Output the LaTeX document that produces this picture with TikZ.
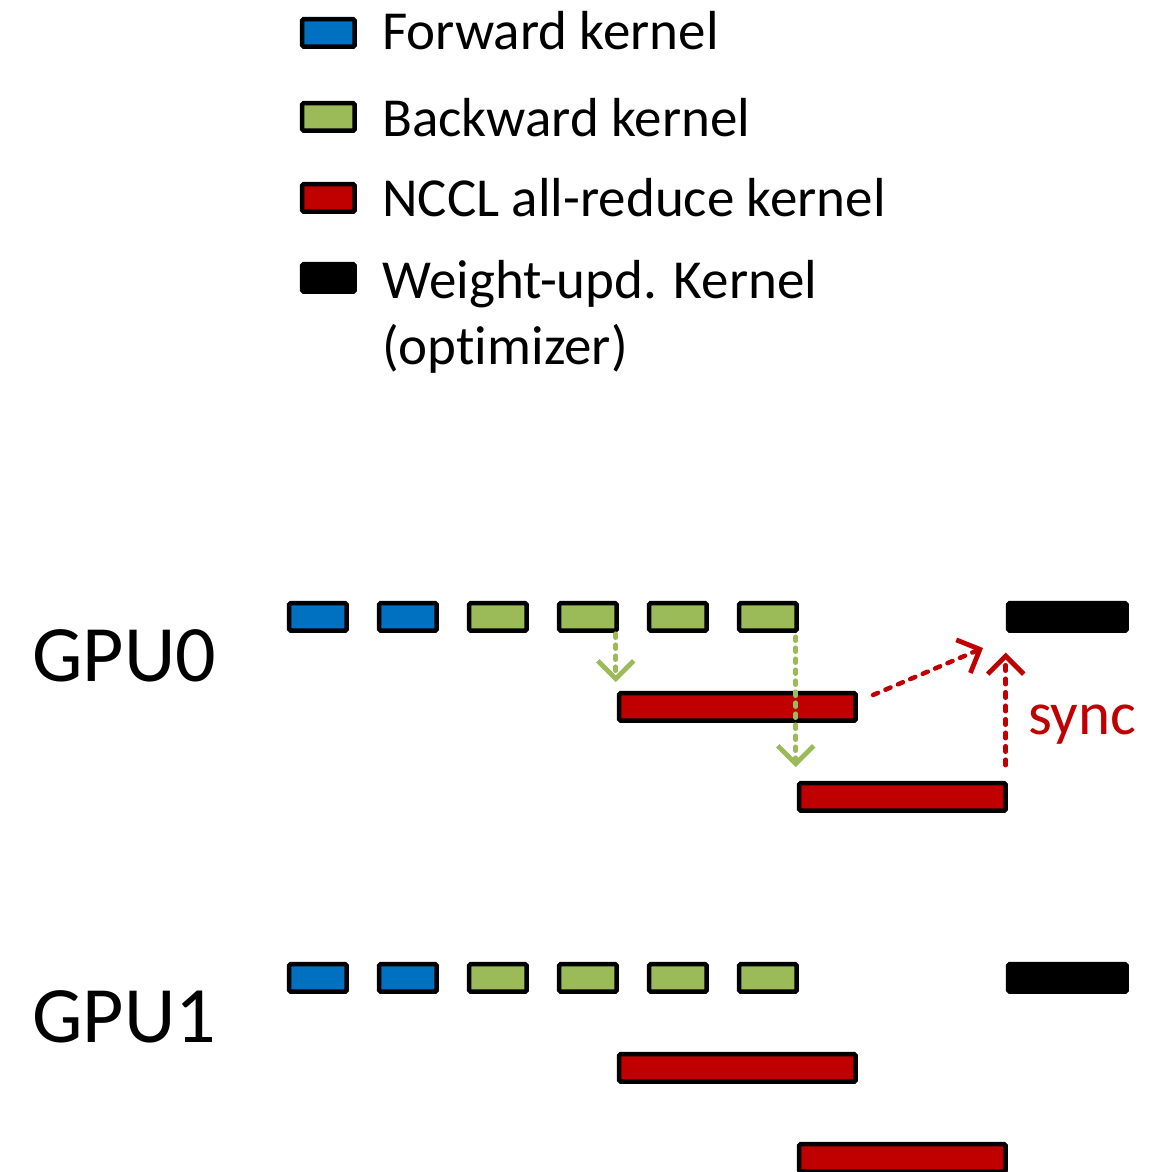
\documentclass[tikz,border=0pt]{standalone}
\usepackage{fontspec}
\setmainfont{Carlito}[Ligatures={NoCommon}]
\usetikzlibrary{arrows.meta}
\definecolor{fwd}{HTML}{0070C0}
\definecolor{bwd}{HTML}{9BBB59}
\definecolor{nccl}{HTML}{C00000}
\begin{document}
\begin{tikzpicture}[x=1pt,y=-1pt,
  kbox/.style={draw=black,line width=4.5pt,rounded corners=1.5pt,inner sep=0pt,
    outer sep=0pt,minimum height=27.5pt,minimum width=#1,anchor=north west},
  kbox/.default=57.5pt,
  legtext/.style={font=\fontsize{55}{66}\selectfont,inner sep=0pt,anchor=base west},
  gputext/.style={font=\fontsize{80}{92}\selectfont,inner sep=0pt,anchor=base west},
  synctext/.style={font=\fontsize{61}{70}\selectfont,inner sep=0pt,anchor=base west,text=nccl},
  chev/.style={-{Straight Barb[length=18pt,width=36pt,line width=4.8pt]}},
  garr/.style={draw=bwd,line width=4.5pt,dash pattern=on 4pt off 7pt,line cap=round,chev},
  rarr/.style={draw=nccl,line width=4.5pt,dash pattern=on 5.5pt off 8pt,line cap=round,chev}]
\useasboundingbox (0,0) rectangle (1156,1172);
\clip (0,0) rectangle (1156,1172);

% legend
\node[kbox=52.5pt,fill=fwd]   (lf) at (302.2,19.2)  {};
\node[kbox=52.5pt,fill=bwd]   (lb) at (302.2,103.2) {};
\node[kbox=52.5pt,fill=nccl]  (ln) at (302.2,184.2) {};
\node[kbox=52.5pt,fill=black] (lw) at (302.2,264.2) {};
\node[legtext] (tf)  at (382,50)  {Forward kernel};
\node[legtext] (tb)  at (382,136) {Backward kernel};
\node[legtext] (tn)  at (382,216) {NCCL all-reduce kernel};
\node[legtext] (tw)  at (382,298) {Weight-upd. Kernel};
\node[legtext] (two) at (382,364) {(optimizer)};

% GPU0 timeline
\node[gputext] (gpu0) at (32,681) {GPU0};
\node[kbox,fill=fwd] (a1) at (289.2,603.2) {};
\node[kbox,fill=fwd] (a2) at (379.2,603.2) {};
\node[kbox,fill=bwd] (a3) at (469.2,603.2) {};
\node[kbox,fill=bwd] (a4) at (559.2,603.2) {};
\node[kbox,fill=bwd] (a5) at (649.2,603.2) {};
\node[kbox,fill=bwd] (a6) at (739.2,603.2) {};
\node[kbox=118.5pt,fill=black] (aw) at (1008.2,603.2) {};
\node[kbox=236.5pt,fill=nccl] (ar1) at (619.2,693.2) {};
\node[kbox=206.5pt,fill=nccl] (ar2) at (799.2,783.2) {};

% GPU1 timeline
\node[gputext] (gpu1) at (32,1042) {GPU1};
\node[kbox,fill=fwd] (b1) at (289.2,964.2) {};
\node[kbox,fill=fwd] (b2) at (379.2,964.2) {};
\node[kbox,fill=bwd] (b3) at (469.2,964.2) {};
\node[kbox,fill=bwd] (b4) at (559.2,964.2) {};
\node[kbox,fill=bwd] (b5) at (649.2,964.2) {};
\node[kbox,fill=bwd] (b6) at (739.2,964.2) {};
\node[kbox=118.5pt,fill=black] (bw) at (1008.2,964.2) {};
\node[kbox=236.5pt,fill=nccl] (br1) at (619.2,1054.2) {};
\node[kbox=206.5pt,fill=nccl] (br2) at (799.2,1144.2) {};

% dependencies on GPU0
\draw[garr,shorten <=3pt,shorten >=11pt] ([xshift=-1pt]a4.south east) -- ([xshift=-1pt]a4.south east |- ar1.north);
\draw[garr,shorten <=6pt,shorten >=16pt] ([xshift=-1pt]a6.south east) -- ([xshift=-1pt]a6.south east |- ar2.north);
\coordinate (ds) at (873,695);
\coordinate (de) at (983,648);
\draw[rarr] (ds) -- (de);
\draw[rarr,shorten <=18pt,shorten >=22pt] (ar2.north east) -- (ar2.north east |- aw.south);
\node[synctext] (sync) at (1028,734) {sync};
\end{tikzpicture}
\end{document}
